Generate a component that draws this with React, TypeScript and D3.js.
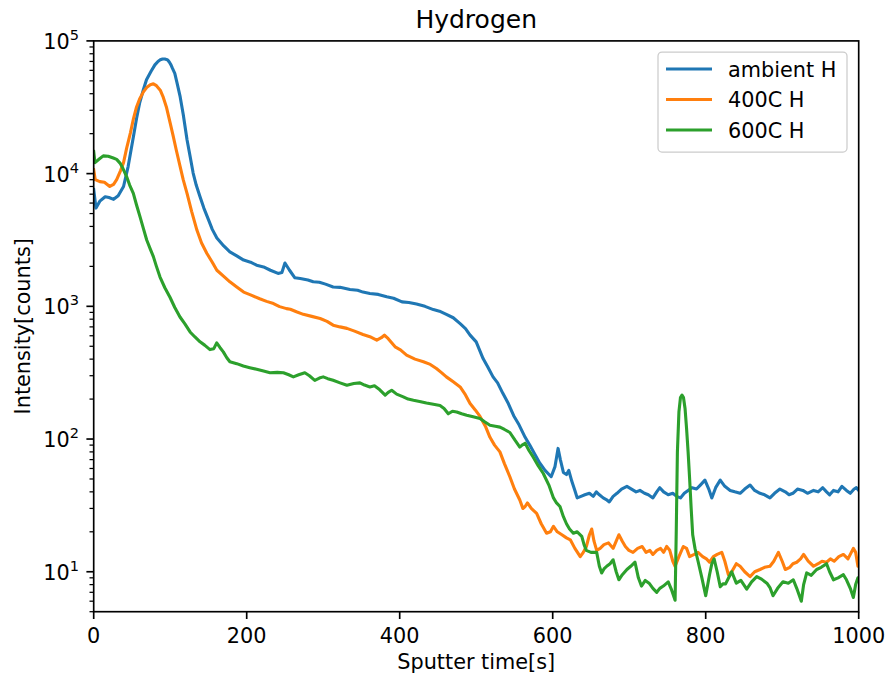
import React from "react";
import * as d3 from "d3";

// ---- Data (sputter time [s], intensity [counts]) ----
const ambientT = [0,3,8,15,20,26,32,39,45,52,56,60,65,69,75,80,84,87,90,93,95,97,99,101,103,106,109,113,117,122,126,130,134,139,144,150,155,161,170,178,187,196,205,213,222,231,241,246,250,256,263,270,280,287,295,303,313,322,335,345,352,361,372,383,392,403,412,422,433,444,452,461,470,479,486,492,500,509,515,522,528,535,542,549,556,564,570,577,583,590,598,603,607,610,614,618,621,625,629,632,637,642,648,653,657,661,666,670,674,679,684,690,697,703,709,714,720,725,731,736,740,745,751,757,762,767,772,777,782,788,793,799,804,808,813,819,825,832,838,845,851,858,864,871,877,884,890,897,904,909,914,920,927,933,941,947,953,958,962,967,973,978,984,989,994,997,1000];
const ambientV = [7600,5500,6200,6700,6600,6400,6800,8000,11300,19100,26000,34000,43000,51000,59000,66000,70000,72000,73000,73000,72500,71500,69000,66000,62000,57000,48000,38000,28000,18000,13500,10100,8200,6700,5500,4500,3800,3270,2850,2570,2400,2230,2150,2040,1980,1870,1770,1800,2120,1870,1640,1620,1580,1530,1520,1470,1400,1390,1340,1320,1280,1250,1230,1180,1150,1080,1070,1040,1000,945,920,870,820,741,680,607,540,404,350,294,265,220,185,150,128,103,90,76,66,58,52,62,85,70,56,54,58,48,41,36,37,38,39,37,40,38,36,35,33.6,37,39,42,44,42,40,41,39,38,36,40,43,40,38,39,37,36,39,41,43,42,45,49,42,36,43,49,44,41,40,39,42,45,41,39,38,36,39,42,40,38,39,42,41,39,41,40,43,40,38,41,40,44,41,39,42,43,41];

const h400T = [0,2,8,14,21,26,30,35,39,43,48,52,56,60,65,70,74,78,82,87,91,95,100,104,108,113,117,122,128,135,141,148,155,161,170,178,187,196,205,217,226,235,243,252,257,265,274,285,296,305,313,322,331,341,352,361,370,376,380,385,394,401,409,420,431,440,448,455,461,470,479,486,492,499,505,512,518,524,531,537,544,550,557,561,564,567,572,579,585,592,597,601,606,612,618,623,629,636,640,644,648,651,654,657.5,662,667,673,679,683,686.5,691,695,699.6,705,711,717,722,727,731,736,741,745,749,753,757,760,765,770.7,775,779,785,790,796,801,805,810,815,821,825,829.6,834,840,845,851,858,864,871,877,884,889,895,900,904,910,914,919,924,928,934,941,947,952,958,963,968,974,980,986,993,996,999,1000];
const h400V = [10700,9000,8700,8600,8000,8300,9000,10500,12100,15500,20300,26000,31800,36500,41300,45000,46800,47500,46000,42500,37500,31800,24000,19100,15000,11300,9000,7100,5200,3740,3000,2500,2150,1870,1680,1530,1400,1280,1220,1140,1090,1050,995,961,950,910,870,840,810,770,721,700,682,650,614,590,556,580,607,570,495,470,429,400,382,365,340,315,294,270,247,215,185,165,148,125,103,90,80,65,52,42,34.7,30,31,33,30,27.5,23,19.5,20,22,20,19,18,17.4,15,13,14,15.5,19,21,17,14.5,15,16,16.5,15,17,19,17,15.5,14.5,14,15,15.5,14,14.5,13.5,14.5,15,14,15.5,14.5,12,11,13,15.5,15,13,13.5,14,13,12.5,11.8,13,13.5,14,12,9.5,10,11.5,11,10,9.2,10,10.4,10.8,11,12,14,12,10.4,10.8,11.5,11.8,12.5,13.5,12,11,11.5,12,11.8,12.5,12,13,13.5,12.5,15,14,11,11];

const h600T = [0,1.7,6,12.5,19,25.6,30,34.4,38,43,47,51.8,56,60.5,65,69.3,74,78,82,86.7,93,99.7,106,112.8,119,126,132,139,145,152,157,160.8,165,169.4,174,178,187,195.6,204,213,222,230.5,240,248,255,261,268,276,282,289,295,300,306,313,322,331,340,348,354,361,367,374,381,385,389.5,396,404.7,411,418,426,435,444,452.7,458,463.5,469,474.5,481,487.6,496,505,511,518,525,531,537,544,550.7,557,560,564,569,574.6,581,587.7,595,601,605,609.5,614,618,622,627,632,638,641,644,650,657.5,661,664,667,670.6,675,679,683,686.5,691,697,702,707.6,712,716,721,726,731,736,740,744.6,751,755,760,761.5,763,765,767,769,771,773,775,777,779,781,783,786,790,795,800,805,808,811,815,819,822.5,826,830,834,840,846,853.6,860,866.7,873,880,884,888,894,901,908,914.5,919,925,928,932,938,945,951,958,962,967,973,980,984,989,993,996,999,1000];
const h600V = [14700,12100,12700,13600,13500,13100,12800,12000,11000,9500,8200,7100,5800,4740,3850,3160,2700,2370,2000,1660,1380,1170,980,831,740,641,590,540,510,472,480,530,490,454,410,382,370,355,345,335,325,316,318,316,305,294,305,316,300,277,288,294,285,277,265,254,262,265,255,247,252,235,214,225,233,218,208,200,196,192,187,183,179,170,155,162,160,155,151,147,143,135,127,125,123,118,112,98,87,90,93,82,73,63,55,45,36,33,31,26,23,21,19.5,20,18.5,16,14.5,14,14,11,9.8,10.5,11,11.5,12.3,10,8.7,9.5,10.4,11,11.8,9,7.8,8.6,8.2,7.5,7,7.5,7.8,8.4,7.4,6.1,20,80,160,205,214,205,170,120,80,50,30,19,15,12,9,6.6,9.5,11.5,12.5,10,7.7,8.1,8.1,9,10,8.2,8.6,7.4,8.4,9.2,8.8,8.2,7.6,6.6,7.5,8.4,8.2,8.7,7.5,6,8,9.8,9.4,10.4,10.8,11.5,10,8.7,9,9.5,8.7,7.5,6.4,8,9,9];

const seriesNames = ["ambient H", "400C H", "600C H"];
const seriesColors = ["#1f77b4", "#ff7f0e", "#2ca02c"];
const xTicks = [0, 200, 400, 600, 800, 1000];
const yMajor = [10, 100, 1000, 10000, 100000];
const yExp = [1, 2, 3, 4, 5];

const W = 888, H = 676;
const L = 93.7, R = 858.7, T = 40.9, B = 611.7;
const FONT = "'DejaVu Sans', sans-serif";
const FS = 20.8;

export default function App() {
  const x = d3.scaleLinear().domain([0, 1000]).range([L, R]);
  const y = d3.scaleLog().domain([5, 100000]).range([B, T]);

  const series = [
    { t: ambientT, v: ambientV },
    { t: h400T, v: h400V },
    { t: h600T, v: h600V },
  ];
  const line = d3.line<[number, number]>().x(d => x(d[0])).y(d => y(d[1]));

  const minor: number[] = [];
  for (let e = 0; e <= 4; e++) {
    for (let m = 2; m <= 9; m++) {
      const v = m * Math.pow(10, e);
      if (v >= 5 && v <= 100000) minor.push(v);
    }
  }

  return (
    <svg width={W} height={H} style={{ position: "absolute", left: 0, top: 0, background: "#fff" }} fontFamily={FONT}>
      <defs>
        <clipPath id="plotclip">
          <rect x={L} y={T} width={R - L} height={B - T} />
        </clipPath>
      </defs>
      <rect x={0} y={0} width={W} height={H} fill="#fff" />
      <g clipPath="url(#plotclip)">
        {series.map((s, i) => (
          <path
            key={i}
            d={line(s.t.map((t, j) => [t, s.v[j]] as [number, number])) || ""}
            fill="none"
            stroke={seriesColors[i]}
            strokeWidth={3.1}
            strokeLinejoin="round"
            strokeLinecap="square"
          />
        ))}
      </g>
      {/* spines */}
      <rect x={L} y={T} width={R - L} height={B - T} fill="none" stroke="#000" strokeWidth={1.67} />
      {/* x ticks */}
      {xTicks.map(t => (
        <g key={t}>
          <line x1={x(t)} x2={x(t)} y1={B} y2={B + 7.3} stroke="#000" strokeWidth={1.67} />
          <text x={x(t)} y={643} fontSize={FS} textAnchor="middle" fill="#000">{t}</text>
        </g>
      ))}
      {/* y minor ticks */}
      {minor.map(v => (
        <line key={v} x1={L - 4.2} x2={L} y1={y(v)} y2={y(v)} stroke="#000" strokeWidth={1.25} />
      ))}
      {/* y major ticks */}
      {yMajor.map((v, i) => (
        <g key={v}>
          <line x1={L - 7.3} x2={L} y1={y(v)} y2={y(v)} stroke="#000" strokeWidth={1.67} />
          <text x={L - 14.6} y={y(v) + 8} fontSize={FS} textAnchor="end" fill="#000">
            10<tspan fontSize={FS * 0.7} dy={-9}>{yExp[i]}</tspan>
          </text>
        </g>
      ))}
      {/* title */}
      <text x={(L + R) / 2} y={28} fontSize={25} textAnchor="middle" fill="#000">Hydrogen</text>
      {/* axis labels */}
      <text x={(L + R) / 2} y={669} fontSize={FS} textAnchor="middle" fill="#000">Sputter time[s]</text>
      <text transform={`translate(30, ${(T + B) / 2}) rotate(-90)`} fontSize={FS} textAnchor="middle" fill="#000">Intensity[counts]</text>
      {/* legend */}
      <rect x={658} y={52} width={189} height={100} rx={4} ry={4} fill="#fff" fillOpacity={0.8} stroke="#cccccc" strokeWidth={1.25} />
      {seriesNames.map((n, i) => {
        const cy = 69 + i * 30.5;
        return (
          <g key={n}>
            <line x1={666} x2={712} y1={cy} y2={cy} stroke={seriesColors[i]} strokeWidth={3.1} />
            <text x={728} y={cy + 7.5} fontSize={FS} fill="#000">{n}</text>
          </g>
        );
      })}
    </svg>
  );
}
